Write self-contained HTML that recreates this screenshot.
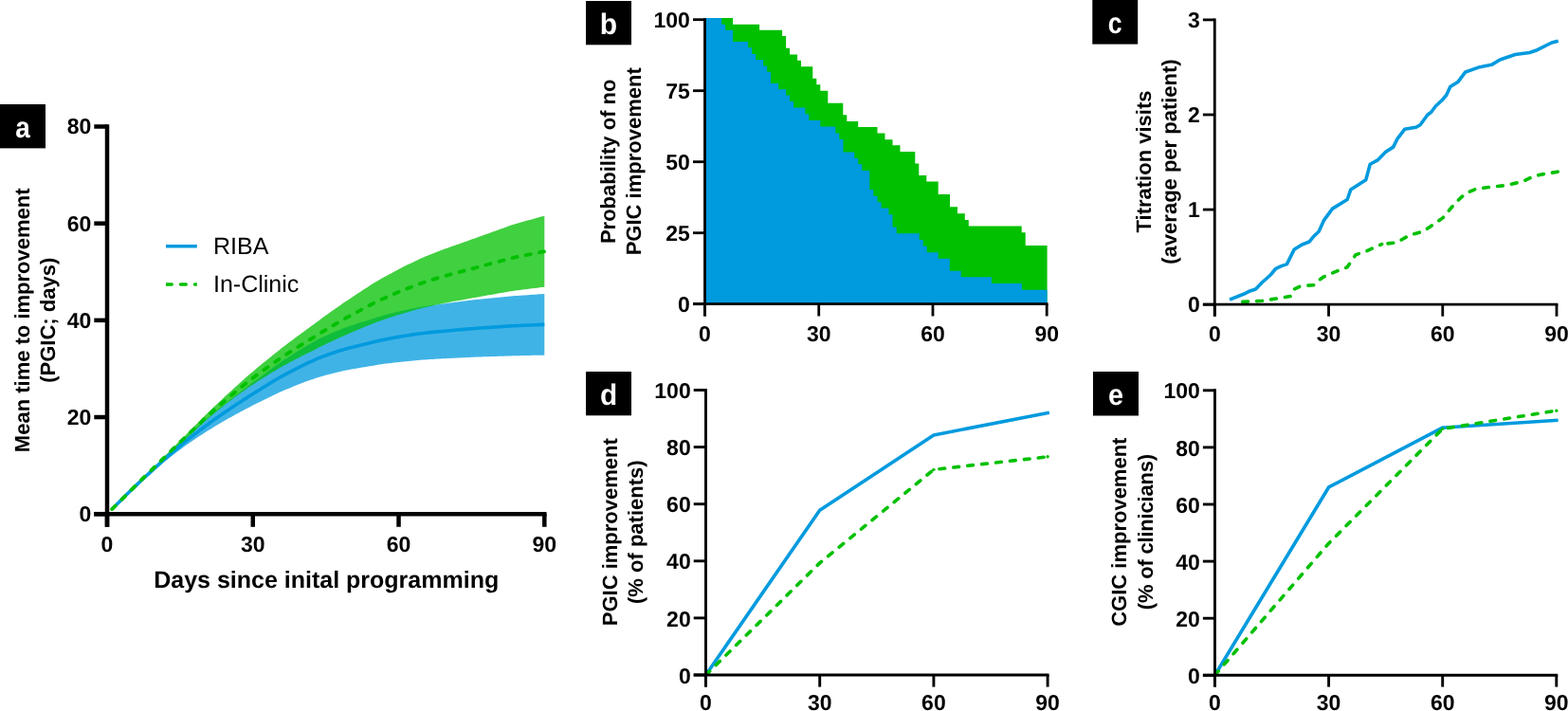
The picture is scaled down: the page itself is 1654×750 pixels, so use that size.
<!DOCTYPE html>
<html><head><meta charset="utf-8"><title>Figure</title>
<style>
html,body{margin:0;padding:0;background:#fff;}
body{width:1654px;height:750px;overflow:hidden;}
svg{display:block;text-rendering:geometricPrecision;}
.t{font-family:'Liberation Sans', Arial, Helvetica, sans-serif;font-weight:bold;font-size:23px;fill:#000;}
.l{font-family:'Liberation Sans', Arial, Helvetica, sans-serif;font-weight:bold;font-size:22px;fill:#000;}
.g{font-family:'Liberation Sans', Arial, Helvetica, sans-serif;font-weight:normal;font-size:25px;fill:#000;}
.p{font-family:'Liberation Sans', Arial, Helvetica, sans-serif;font-weight:bold;font-size:31px;fill:#fff;}
</style></head>
<body>
<svg width="1654" height="750" viewBox="0 0 1654 750">
<rect width="1654" height="750" fill="#fff"/>
<path d="M118.13,537.09 L120.69,534.53 L123.25,531.98 L125.81,529.42 L128.38,526.86 L130.94,524.31 L133.5,521.75 L136.06,519.15 L138.63,516.54 L141.19,513.97 L143.75,511.38 L146.32,508.79 L148.88,506.2 L151.44,503.7 L154,501.18 L156.57,498.66 L159.13,496.13 L161.69,493.59 L164.26,491.05 L166.82,488.51 L169.38,485.97 L171.94,483.48 L174.51,480.99 L177.07,478.55 L179.63,476.1 L182.19,473.71 L184.76,471.31 L187.32,468.9 L189.88,466.49 L192.45,464.13 L195.01,461.77 L197.57,459.46 L200.13,457.14 L202.7,454.94 L205.26,452.73 L207.82,450.51 L210.39,448.28 L212.95,446.11 L215.51,443.93 L218.07,441.75 L220.64,439.56 L223.2,437.43 L225.76,435.29 L228.32,433.21 L230.89,431.12 L233.45,429.1 L236.01,427.07 L238.58,425.03 L241.14,422.99 L243.7,420.95 L246.26,418.9 L248.83,416.91 L251.39,414.93 L253.95,413 L256.52,411.07 L259.08,409.13 L261.64,407.2 L264.2,405.26 L266.77,403.31 L269.33,401.43 L271.89,399.55 L274.45,397.67 L277.02,395.78 L279.58,393.89 L282.14,392 L284.71,390.1 L287.27,388.21 L289.83,386.37 L292.39,384.54 L294.96,382.77 L297.52,381.01 L300.08,379.35 L302.65,377.72 L305.21,376.08 L307.77,374.43 L310.33,372.79 L312.9,371.14 L315.46,369.55 L318.02,367.97 L320.58,366.44 L323.15,364.92 L325.71,363.46 L328.27,361.99 L330.84,360.53 L333.4,359.06 L335.96,357.8 L338.52,356.54 L341.09,355.35 L343.65,354.15 L346.21,353.01 L348.78,351.87 L351.34,350.79 L353.9,349.72 L356.46,348.65 L359.03,347.57 L361.59,346.56 L364.15,345.54 L366.71,344.66 L369.28,343.79 L371.84,342.98 L374.4,342.18 L376.97,341.37 L379.53,340.57 L382.09,339.76 L384.65,338.94 L387.22,338.13 L389.78,337.31 L392.34,336.5 L394.91,335.68 L397.47,334.85 L400.03,334.03 L402.59,333.27 L405.16,332.51 L407.72,331.82 L410.28,331.14 L412.84,330.52 L415.41,329.92 L417.97,329.31 L420.53,328.7 L423.1,328.09 L425.66,327.47 L428.22,326.92 L430.78,326.38 L433.35,325.84 L435.91,325.29 L438.47,324.75 L441.04,324.2 L443.6,323.78 L446.16,323.38 L448.72,322.98 L451.29,322.58 L453.85,322.18 L456.41,321.78 L458.97,321.45 L461.54,321.13 L464.1,320.81 L466.66,320.48 L469.23,320.16 L471.79,319.83 L474.35,319.5 L476.91,319.17 L479.48,318.85 L482.04,318.52 L484.6,318.19 L487.17,317.86 L489.73,317.53 L492.29,317.19 L494.85,316.86 L497.42,316.53 L499.98,316.26 L502.54,316.01 L505.1,315.76 L507.67,315.5 L510.23,315.25 L512.79,315 L515.36,314.74 L517.92,314.49 L520.48,314.23 L523.04,313.98 L525.61,313.72 L528.17,313.47 L530.73,313.21 L533.3,312.95 L535.86,312.69 L538.42,312.44 L540.98,312.25 L543.55,312.08 L546.11,311.9 L548.67,311.73 L551.23,311.55 L553.8,311.38 L556.36,311.21 L558.92,311.03 L561.49,310.85 L564.05,310.68 L566.61,310.5 L569.17,310.33 L571.74,310.15 L574.3,310.07 L574.3,374.63 L571.74,374.66 L569.17,374.71 L566.61,374.76 L564.05,374.82 L561.49,374.87 L558.92,374.93 L556.36,374.98 L553.8,375.04 L551.23,375.09 L548.67,375.15 L546.11,375.2 L543.55,375.26 L540.98,375.32 L538.42,375.38 L535.86,375.46 L533.3,375.55 L530.73,375.64 L528.17,375.72 L525.61,375.81 L523.04,375.9 L520.48,375.99 L517.92,376.08 L515.36,376.17 L512.79,376.26 L510.23,376.35 L507.67,376.44 L505.1,376.53 L502.54,376.62 L499.98,376.71 L497.42,376.81 L494.85,376.94 L492.29,377.06 L489.73,377.19 L487.17,377.31 L484.6,377.44 L482.04,377.57 L479.48,377.7 L476.91,377.83 L474.35,377.96 L471.79,378.09 L469.23,378.22 L466.66,378.35 L464.1,378.49 L461.54,378.62 L458.97,378.76 L456.41,378.9 L453.85,379.07 L451.29,379.24 L448.72,379.41 L446.16,379.58 L443.6,379.76 L441.04,379.94 L438.47,380.19 L435.91,380.44 L433.35,380.68 L430.78,380.93 L428.22,381.18 L425.66,381.44 L423.1,381.72 L420.53,382.01 L417.97,382.3 L415.41,382.6 L412.84,382.89 L410.28,383.19 L407.72,383.52 L405.16,383.87 L402.59,384.24 L400.03,384.62 L397.47,385.04 L394.91,385.46 L392.34,385.88 L389.78,386.31 L387.22,386.73 L384.65,387.16 L382.09,387.59 L379.53,388.02 L376.97,388.45 L374.4,388.89 L371.84,389.33 L369.28,389.78 L366.71,390.26 L364.15,390.75 L361.59,391.33 L359.03,391.9 L356.46,392.52 L353.9,393.14 L351.34,393.77 L348.78,394.4 L346.21,395.07 L343.65,395.75 L341.09,396.47 L338.52,397.19 L335.96,397.95 L333.4,398.72 L330.84,399.63 L328.27,400.53 L325.71,401.44 L323.15,402.35 L320.58,403.31 L318.02,404.27 L315.46,405.28 L312.9,406.28 L310.33,407.34 L307.77,408.4 L305.21,409.46 L302.65,410.52 L300.08,411.59 L297.52,412.67 L294.96,413.83 L292.39,415 L289.83,416.21 L287.27,417.43 L284.71,418.69 L282.14,419.96 L279.58,421.22 L277.02,422.49 L274.45,423.77 L271.89,425.04 L269.33,426.32 L266.77,427.61 L264.2,428.94 L261.64,430.27 L259.08,431.61 L256.52,432.95 L253.95,434.3 L251.39,435.65 L248.83,437.05 L246.26,438.45 L243.7,439.91 L241.14,441.37 L238.58,442.83 L236.01,444.29 L233.45,445.76 L230.89,447.24 L228.32,448.77 L225.76,450.3 L223.2,451.89 L220.64,453.48 L218.07,455.12 L215.51,456.76 L212.95,458.41 L210.39,460.07 L207.82,461.78 L205.26,463.5 L202.7,465.22 L200.13,466.95 L197.57,468.78 L195.01,470.62 L192.45,472.51 L189.88,474.4 L187.32,476.35 L184.76,478.31 L182.19,480.27 L179.63,482.24 L177.07,484.26 L174.51,486.29 L171.94,488.37 L169.38,490.46 L166.82,492.6 L164.26,494.75 L161.69,496.89 L159.13,499.04 L156.57,501.2 L154,503.36 L151.44,505.53 L148.88,507.72 L146.32,510.02 L143.75,512.32 L141.19,514.63 L138.63,516.96 L136.06,519.35 L133.5,521.75 L130.94,524.31 L128.38,526.86 L125.81,529.42 L123.25,531.98 L120.69,534.53 L118.13,537.09 Z" fill="#009ADE" fill-opacity="0.75"/>
<path d="M118.13,537.09 L120.69,534.53 L123.25,531.98 L125.81,529.42 L128.38,526.86 L130.94,524.31 L133.5,521.75 L136.06,519.2 L138.63,516.64 L141.19,514.08 L143.75,511.53 L146.32,508.97 L148.88,506.41 L151.44,503.81 L154,501.2 L156.57,498.6 L159.13,495.99 L161.69,493.38 L164.26,490.78 L166.82,488.17 L169.38,485.57 L171.94,482.96 L174.51,480.35 L177.07,477.75 L179.63,475.14 L182.19,472.53 L184.76,469.93 L187.32,467.37 L189.88,464.81 L192.45,462.24 L195.01,459.67 L197.57,457.09 L200.13,454.52 L202.7,451.93 L205.26,449.35 L207.82,446.77 L210.39,444.18 L212.95,441.59 L215.51,439.01 L218.07,436.47 L220.64,433.94 L223.2,431.51 L225.76,429.07 L228.32,426.68 L230.89,424.28 L233.45,421.88 L236.01,419.47 L238.58,417.11 L241.14,414.75 L243.7,412.43 L246.26,410.11 L248.83,407.78 L251.39,405.44 L253.95,403.1 L256.52,400.75 L259.08,398.51 L261.64,396.27 L264.2,394.08 L266.77,391.89 L269.33,389.75 L271.89,387.6 L274.45,385.45 L277.02,383.3 L279.58,381.25 L282.14,379.21 L284.71,377.16 L287.27,375.11 L289.83,373.05 L292.39,370.98 L294.96,368.91 L297.52,366.84 L300.08,364.89 L302.65,362.93 L305.21,361.03 L307.77,359.13 L310.33,357.23 L312.9,355.32 L315.46,353.4 L318.02,351.49 L320.58,349.63 L323.15,347.76 L325.71,345.9 L328.27,344.02 L330.84,342.15 L333.4,340.27 L335.96,338.39 L338.52,336.51 L341.09,334.62 L343.65,332.74 L346.21,330.91 L348.78,329.08 L351.34,327.25 L353.9,325.42 L356.46,323.65 L359.03,321.89 L361.59,320.12 L364.15,318.35 L366.71,316.63 L369.28,314.92 L371.84,313.2 L374.4,311.48 L376.97,309.83 L379.53,308.17 L382.09,306.52 L384.65,304.86 L387.22,303.2 L389.78,301.54 L392.34,299.87 L394.91,298.21 L397.47,296.68 L400.03,295.14 L402.59,293.73 L405.16,292.31 L407.72,290.9 L410.28,289.48 L412.84,288.13 L415.41,286.77 L417.97,285.42 L420.53,284.06 L423.1,282.7 L425.66,281.33 L428.22,280.09 L430.78,278.86 L433.35,277.63 L435.91,276.4 L438.47,275.17 L441.04,273.93 L443.6,272.8 L446.16,271.71 L448.72,270.61 L451.29,269.51 L453.85,268.46 L456.41,267.44 L458.97,266.41 L461.54,265.38 L464.1,264.4 L466.66,263.44 L469.23,262.54 L471.79,261.64 L474.35,260.75 L476.91,259.85 L479.48,258.95 L482.04,258.05 L484.6,257.15 L487.17,256.25 L489.73,255.34 L492.29,254.43 L494.85,253.52 L497.42,252.61 L499.98,251.7 L502.54,250.79 L505.1,249.87 L507.67,248.95 L510.23,248.04 L512.79,247.12 L515.36,246.2 L517.92,245.27 L520.48,244.35 L523.04,243.43 L525.61,242.5 L528.17,241.57 L530.73,240.64 L533.3,239.71 L535.86,238.78 L538.42,237.85 L540.98,236.99 L543.55,236.13 L546.11,235.43 L548.67,234.73 L551.23,234.02 L553.8,233.32 L556.36,232.62 L558.92,231.91 L561.49,231.21 L564.05,230.5 L566.61,229.79 L569.17,229.08 L571.74,228.37 L574.3,228.03 L574.3,302.87 L571.74,303.02 L569.17,303.33 L566.61,303.65 L564.05,303.97 L561.49,304.29 L558.92,304.61 L556.36,304.93 L553.8,305.25 L551.23,305.57 L548.67,305.89 L546.11,306.22 L543.55,306.55 L540.98,306.95 L538.42,307.36 L535.86,307.8 L533.3,308.24 L530.73,308.68 L528.17,309.12 L525.61,309.57 L523.04,310.02 L520.48,310.46 L517.92,310.91 L515.36,311.36 L512.79,311.82 L510.23,312.27 L507.67,312.72 L505.1,313.18 L502.54,313.64 L499.98,314.09 L497.42,314.55 L494.85,315.02 L492.29,315.48 L489.73,315.94 L487.17,316.41 L484.6,316.88 L482.04,317.35 L479.48,317.82 L476.91,318.3 L474.35,318.77 L471.79,319.25 L469.23,319.73 L466.66,320.22 L464.1,320.74 L461.54,321.27 L458.97,321.84 L456.41,322.41 L453.85,322.98 L451.29,323.57 L448.72,324.18 L446.16,324.81 L443.6,325.43 L441.04,326.08 L438.47,326.79 L435.91,327.5 L433.35,328.22 L430.78,328.93 L428.22,329.65 L425.66,330.39 L423.1,331.2 L420.53,332.01 L417.97,332.82 L415.41,333.64 L412.84,334.46 L410.28,335.28 L407.72,336.14 L405.16,337.01 L402.59,337.89 L400.03,338.76 L397.47,339.72 L394.91,340.68 L392.34,341.72 L389.78,342.77 L387.22,343.82 L384.65,344.87 L382.09,345.92 L379.53,346.97 L376.97,348.03 L374.4,349.1 L371.84,350.2 L369.28,351.31 L366.71,352.42 L364.15,353.54 L361.59,354.7 L359.03,355.86 L356.46,357.02 L353.9,358.19 L351.34,359.4 L348.78,360.62 L346.21,361.83 L343.65,363.06 L341.09,364.32 L338.52,365.59 L335.96,366.86 L333.4,368.14 L330.84,369.41 L328.27,370.69 L325.71,371.98 L323.15,373.26 L320.58,374.55 L318.02,375.84 L315.46,377.18 L312.9,378.52 L310.33,379.87 L307.77,381.22 L305.21,382.58 L302.65,383.94 L300.08,385.35 L297.52,386.77 L294.96,388.28 L292.39,389.8 L289.83,391.32 L287.27,392.84 L284.71,394.37 L282.14,395.91 L279.58,397.45 L277.02,399 L274.45,400.65 L271.89,402.31 L269.33,403.97 L266.77,405.64 L264.2,407.36 L261.64,409.09 L259.08,410.88 L256.52,412.68 L253.95,414.57 L251.39,416.47 L248.83,418.37 L246.26,420.28 L243.7,422.2 L241.14,424.12 L238.58,426.1 L236.01,428.09 L233.45,430.13 L230.89,432.19 L228.32,434.25 L225.76,436.32 L223.2,438.45 L220.64,440.59 L218.07,442.84 L215.51,445.1 L212.95,447.4 L210.39,449.71 L207.82,452.02 L205.26,454.34 L202.7,456.65 L200.13,458.96 L197.57,461.28 L195.01,463.6 L192.45,465.93 L189.88,468.25 L187.32,470.59 L184.76,472.93 L182.19,475.32 L179.63,477.71 L177.07,480.1 L174.51,482.49 L171.94,484.88 L169.38,487.28 L166.82,489.67 L164.26,492.06 L161.69,494.45 L159.13,496.84 L156.57,499.24 L154,501.63 L151.44,504.02 L148.88,506.41 L146.32,508.97 L143.75,511.53 L141.19,514.08 L138.63,516.64 L136.06,519.2 L133.5,521.75 L130.94,524.31 L128.38,526.86 L125.81,529.42 L123.25,531.98 L120.69,534.53 L118.13,537.09 Z" fill="#00C000" fill-opacity="0.75"/>
<path d="M118.13,537.09 L120.69,534.53 L123.25,531.98 L125.81,529.42 L128.38,526.86 L130.94,524.31 L133.5,521.75 L136.06,519.25 L138.63,516.75 L141.19,514.3 L143.75,511.85 L146.32,509.41 L148.88,506.96 L151.44,504.61 L154,502.27 L156.57,499.93 L159.13,497.59 L161.69,495.24 L164.26,492.9 L166.82,490.56 L169.38,488.22 L171.94,485.93 L174.51,483.64 L177.07,481.4 L179.63,479.17 L182.19,476.99 L184.76,474.81 L187.32,472.63 L189.88,470.45 L192.45,468.32 L195.01,466.19 L197.57,464.12 L200.13,462.05 L202.7,460.08 L205.26,458.11 L207.82,456.14 L210.39,454.18 L212.95,452.26 L215.51,450.35 L218.07,448.43 L220.64,446.52 L223.2,444.66 L225.76,442.8 L228.32,440.99 L230.89,439.18 L233.45,437.43 L236.01,435.68 L238.58,433.93 L241.14,432.18 L243.7,430.43 L246.26,428.68 L248.83,426.98 L251.39,425.29 L253.95,423.65 L256.52,422.01 L259.08,420.37 L261.64,418.74 L264.2,417.1 L266.77,415.46 L269.33,413.88 L271.89,412.3 L274.45,410.72 L277.02,409.14 L279.58,407.56 L282.14,405.98 L284.71,404.4 L287.27,402.82 L289.83,401.29 L292.39,399.77 L294.96,398.3 L297.52,396.84 L300.08,395.47 L302.65,394.12 L305.21,392.77 L307.77,391.41 L310.33,390.06 L312.9,388.71 L315.46,387.41 L318.02,386.12 L320.58,384.88 L323.15,383.63 L325.71,382.45 L328.27,381.26 L330.84,380.08 L333.4,378.89 L335.96,377.88 L338.52,376.86 L341.09,375.91 L343.65,374.95 L346.21,374.04 L348.78,373.14 L351.34,372.28 L353.9,371.43 L356.46,370.58 L359.03,369.74 L361.59,368.94 L364.15,368.15 L366.71,367.46 L369.28,366.79 L371.84,366.15 L374.4,365.53 L376.97,364.91 L379.53,364.29 L382.09,363.67 L384.65,363.05 L387.22,362.43 L389.78,361.81 L392.34,361.19 L394.91,360.57 L397.47,359.95 L400.03,359.33 L402.59,358.75 L405.16,358.19 L407.72,357.67 L410.28,357.17 L412.84,356.71 L415.41,356.26 L417.97,355.81 L420.53,355.36 L423.1,354.9 L425.66,354.45 L428.22,354.05 L430.78,353.66 L433.35,353.26 L435.91,352.86 L438.47,352.47 L441.04,352.07 L443.6,351.77 L446.16,351.48 L448.72,351.2 L451.29,350.91 L453.85,350.63 L456.41,350.34 L458.97,350.11 L461.54,349.88 L464.1,349.65 L466.66,349.42 L469.23,349.19 L471.79,348.96 L474.35,348.73 L476.91,348.5 L479.48,348.27 L482.04,348.04 L484.6,347.81 L487.17,347.59 L489.73,347.36 L492.29,347.13 L494.85,346.9 L497.42,346.67 L499.98,346.49 L502.54,346.31 L505.1,346.14 L507.67,345.97 L510.23,345.8 L512.79,345.63 L515.36,345.45 L517.92,345.28 L520.48,345.11 L523.04,344.94 L525.61,344.77 L528.17,344.59 L530.73,344.42 L533.3,344.25 L535.86,344.08 L538.42,343.91 L540.98,343.78 L543.55,343.67 L546.11,343.55 L548.67,343.44 L551.23,343.32 L553.8,343.21 L556.36,343.09 L558.92,342.98 L561.49,342.86 L564.05,342.75 L566.61,342.63 L569.17,342.52 L571.74,342.4 L574.3,342.35" fill="none" stroke="#009ADE" stroke-width="3.6" stroke-linecap="butt" stroke-linejoin="round"/>
<path d="M118.13,537.09 L120.69,534.53 L123.25,531.98 L125.81,529.42 L128.38,526.86 L130.94,524.31 L133.5,521.75 L136.06,519.2 L138.63,516.64 L141.19,514.08 L143.75,511.53 L146.32,508.97 L148.88,506.41 L151.44,503.91 L154,501.42 L156.57,498.92 L159.13,496.42 L161.69,493.92 L164.26,491.42 L166.82,488.92 L169.38,486.42 L171.94,483.92 L174.51,481.42 L177.07,478.92 L179.63,476.43 L182.19,473.93 L184.76,471.43 L187.32,468.98 L189.88,466.53 L192.45,464.08 L195.01,461.64 L197.57,459.19 L200.13,456.74 L202.7,454.29 L205.26,451.84 L207.82,449.4 L210.39,446.95 L212.95,444.5 L215.51,442.05 L218.07,439.66 L220.64,437.26 L223.2,434.98 L225.76,432.69 L228.32,430.47 L230.89,428.24 L233.45,426.01 L236.01,423.78 L238.58,421.6 L241.14,419.43 L243.7,417.31 L246.26,415.19 L248.83,413.07 L251.39,410.95 L253.95,408.83 L256.52,406.71 L259.08,404.69 L261.64,402.68 L264.2,400.72 L266.77,398.76 L269.33,396.86 L271.89,394.96 L274.45,393.05 L277.02,391.15 L279.58,389.35 L282.14,387.56 L284.71,385.77 L287.27,383.98 L289.83,382.18 L292.39,380.39 L294.96,378.6 L297.52,376.81 L300.08,375.12 L302.65,373.43 L305.21,371.8 L307.77,370.18 L310.33,368.55 L312.9,366.92 L315.46,365.29 L318.02,363.67 L320.58,362.09 L323.15,360.51 L325.71,358.94 L328.27,357.36 L330.84,355.78 L333.4,354.21 L335.96,352.63 L338.52,351.05 L341.09,349.47 L343.65,347.9 L346.21,346.37 L348.78,344.85 L351.34,343.33 L353.9,341.81 L356.46,340.34 L359.03,338.87 L361.59,337.41 L364.15,335.94 L366.71,334.53 L369.28,333.11 L371.84,331.7 L374.4,330.29 L376.97,328.93 L379.53,327.57 L382.09,326.22 L384.65,324.86 L387.22,323.51 L389.78,322.15 L392.34,320.8 L394.91,319.45 L397.47,318.2 L400.03,316.95 L402.59,315.81 L405.16,314.66 L407.72,313.52 L410.28,312.38 L412.84,311.29 L415.41,310.21 L417.97,309.12 L420.53,308.03 L423.1,306.95 L425.66,305.86 L428.22,304.87 L430.78,303.9 L433.35,302.93 L435.91,301.95 L438.47,300.98 L441.04,300.01 L443.6,299.12 L446.16,298.26 L448.72,297.4 L451.29,296.54 L453.85,295.72 L456.41,294.92 L458.97,294.12 L461.54,293.32 L464.1,292.57 L466.66,291.83 L469.23,291.13 L471.79,290.45 L474.35,289.76 L476.91,289.07 L479.48,288.39 L482.04,287.7 L484.6,287.02 L487.17,286.33 L489.73,285.64 L492.29,284.96 L494.85,284.27 L497.42,283.58 L499.98,282.9 L502.54,282.21 L505.1,281.52 L507.67,280.84 L510.23,280.15 L512.79,279.47 L515.36,278.78 L517.92,278.09 L520.48,277.41 L523.04,276.72 L525.61,276.03 L528.17,275.35 L530.73,274.66 L533.3,273.98 L535.86,273.29 L538.42,272.6 L540.98,271.97 L543.55,271.34 L546.11,270.82 L548.67,270.31 L551.23,269.8 L553.8,269.28 L556.36,268.77 L558.92,268.26 L561.49,267.75 L564.05,267.23 L566.61,266.72 L569.17,266.21 L571.74,265.7 L574.3,265.45" fill="none" stroke="#00C000" stroke-width="3.8" stroke-linecap="round" stroke-linejoin="round" stroke-dasharray="5.2 9.3"/>
<line x1="113" y1="131.25" x2="113" y2="555.8" stroke="#000" stroke-width="4.5"/>
<line x1="99.3" y1="542.2" x2="576.55" y2="542.2" stroke="#000" stroke-width="4.5"/>
<line x1="99.3" y1="542.2" x2="113" y2="542.2" stroke="#000" stroke-width="4.5"/>
<line x1="99.3" y1="440.03" x2="113" y2="440.03" stroke="#000" stroke-width="4.5"/>
<line x1="99.3" y1="337.85" x2="113" y2="337.85" stroke="#000" stroke-width="4.5"/>
<line x1="99.3" y1="235.68" x2="113" y2="235.68" stroke="#000" stroke-width="4.5"/>
<line x1="99.3" y1="133.5" x2="113" y2="133.5" stroke="#000" stroke-width="4.5"/>
<line x1="113" y1="542.2" x2="113" y2="555.8" stroke="#000" stroke-width="4.5"/>
<line x1="266.77" y1="542.2" x2="266.77" y2="555.8" stroke="#000" stroke-width="4.5"/>
<line x1="420.53" y1="542.2" x2="420.53" y2="555.8" stroke="#000" stroke-width="4.5"/>
<line x1="574.3" y1="542.2" x2="574.3" y2="555.8" stroke="#000" stroke-width="4.5"/>
<text transform="translate(96.3,550.1) scale(1,1.0)" text-anchor="end" class="t">0</text>
<text transform="translate(96.3,447.93) scale(1,1.0)" text-anchor="end" class="t">20</text>
<text transform="translate(96.3,345.75) scale(1,1.0)" text-anchor="end" class="t">40</text>
<text transform="translate(96.3,243.58) scale(1,1.0)" text-anchor="end" class="t">60</text>
<text transform="translate(96.3,141.4) scale(1,1.0)" text-anchor="end" class="t">80</text>
<text transform="translate(113,581.8) scale(1,1.0)" text-anchor="middle" class="t">0</text>
<text transform="translate(266.77,581.8) scale(1,1.0)" text-anchor="middle" class="t">30</text>
<text transform="translate(420.53,581.8) scale(1,1.0)" text-anchor="middle" class="t">60</text>
<text transform="translate(574.3,581.8) scale(1,1.0)" text-anchor="middle" class="t">90</text>
<text transform="translate(31.2,337.8) rotate(-90) scale(1,1.0)" text-anchor="middle" class="l">Mean time to improvement</text>
<text transform="translate(58,337.8) rotate(-90) scale(1,1.0)" text-anchor="middle" class="l">(PGIC; days)</text>
<text x="344.2" y="620" text-anchor="middle" class="l" style="font-size:25px">Days since inital programming</text>
<line x1="175" y1="259.8" x2="207.8" y2="259.8" stroke="#009ADE" stroke-width="3.6"/>
<clipPath id="lgc"><rect x="175" y="290" width="32.8" height="20"/></clipPath>
<line x1="175.6" y1="300.05" x2="212" y2="300.05" stroke="#00C000" stroke-width="3.6" stroke-linecap="round" stroke-dasharray="5.6 9.4" clip-path="url(#lgc)"/>
<text x="225" y="268.3" class="g">RIBA</text>
<text x="225" y="308" class="g">In-Clinic</text>
<rect x="0" y="110" width="48" height="46.4" fill="#000"/>
<text transform="translate(24,144.7) scale(0.9,1)" text-anchor="middle" class="p">a</text>
<path d="M743.5,320.7 L743.5,19 L773.1,19 L773.1,25.7 L801.1,25.7 L801.1,31.7 L825.1,31.7 L825.1,37.9 L829.1,37.9 L829.1,50.7 L833.1,50.7 L833.1,57.4 L841.1,57.4 L841.1,63.7 L845,63.7 L845,70.2 L857.3,70.2 L857.3,82.8 L861.3,82.8 L861.3,89.3 L865.3,89.3 L865.3,95.7 L873.3,95.7 L873.3,108.7 L889.3,108.7 L889.3,121.3 L893.3,121.3 L893.3,128 L905.2,128 L905.2,134 L925.5,134 L925.5,140.5 L933.5,140.5 L933.5,147.2 L941.5,147.2 L941.5,153.3 L949.5,153.3 L949.5,160 L965.3,160 L965.3,172.4 L969.3,172.4 L969.3,184.9 L977.3,184.9 L977.3,191.6 L989.7,191.6 L989.7,204.9 L1002,204.9 L1002,218.3 L1010,218.3 L1010,225.3 L1017.8,225.3 L1017.8,231.9 L1021.8,231.9 L1021.8,238.6 L1077.7,238.6 L1077.7,245.3 L1081.7,245.3 L1081.7,259 L1104.6,259 L1104.6,320.7 Z" fill="#00C000"/>
<path d="M743.5,320.7 L743.5,19 L761.1,19 L761.1,25.7 L765.1,25.7 L765.1,31.7 L773.1,31.7 L773.1,44.1 L789.1,44.1 L789.1,50.3 L793.1,50.3 L793.1,57 L797.1,57 L797.1,63 L805.1,63 L805.1,69.4 L809.1,69.4 L809.1,75.7 L813.1,75.7 L813.1,88.1 L821.1,88.1 L821.1,94.3 L829.1,94.3 L829.1,100.6 L833.1,100.6 L833.1,107 L837.2,107 L837.2,113.6 L849.3,113.6 L849.3,120.3 L853.3,120.3 L853.3,126.9 L865.3,126.9 L865.3,133.6 L881.3,133.6 L881.3,140.4 L885.3,140.4 L885.3,147.1 L889.5,147.1 L889.5,160.4 L901.3,160.4 L901.3,167.1 L905.3,167.1 L905.3,173.3 L909.3,173.3 L909.3,180 L917.3,180 L917.3,200 L921.3,200 L921.3,206.7 L925.6,206.7 L925.6,213.3 L929.6,213.3 L929.6,219.6 L937.5,219.6 L937.5,226.3 L941.5,226.3 L941.5,239.6 L945.7,239.6 L945.7,246.3 L969.7,246.3 L969.7,252.9 L973.7,252.9 L973.7,259.6 L977.7,259.6 L977.7,266.3 L989.7,266.3 L989.7,272.7 L1001.8,272.7 L1001.8,285.7 L1013.7,285.7 L1013.7,292.3 L1045.9,292.3 L1045.9,299 L1077.9,299 L1077.9,305.7 L1104.6,305.7 L1104.6,320.7 Z" fill="#009ADE"/>
<line x1="743.5" y1="19.3" x2="743.5" y2="333.5" stroke="#000" stroke-width="2.8"/>
<line x1="731" y1="320.7" x2="1105.6" y2="320.7" stroke="#000" stroke-width="2.8"/>
<line x1="731" y1="320.7" x2="743.5" y2="320.7" stroke="#000" stroke-width="2.8"/>
<line x1="731" y1="245.7" x2="743.5" y2="245.7" stroke="#000" stroke-width="2.8"/>
<line x1="731" y1="170.7" x2="743.5" y2="170.7" stroke="#000" stroke-width="2.8"/>
<line x1="731" y1="95.7" x2="743.5" y2="95.7" stroke="#000" stroke-width="2.8"/>
<line x1="731" y1="20.7" x2="743.5" y2="20.7" stroke="#000" stroke-width="2.8"/>
<line x1="743.5" y1="320.7" x2="743.5" y2="333.5" stroke="#000" stroke-width="2.8"/>
<line x1="863.73" y1="320.7" x2="863.73" y2="333.5" stroke="#000" stroke-width="2.8"/>
<line x1="983.97" y1="320.7" x2="983.97" y2="333.5" stroke="#000" stroke-width="2.8"/>
<line x1="1104.2" y1="320.7" x2="1104.2" y2="333.5" stroke="#000" stroke-width="2.8"/>
<text transform="translate(727.9,329.3) scale(1,1.0)" text-anchor="end" class="t">0</text>
<text transform="translate(727.9,254.3) scale(1,1.0)" text-anchor="end" class="t">25</text>
<text transform="translate(727.9,179.3) scale(1,1.0)" text-anchor="end" class="t">50</text>
<text transform="translate(727.9,104.3) scale(1,1.0)" text-anchor="end" class="t">75</text>
<text transform="translate(727.9,29.3) scale(1,1.0)" text-anchor="end" class="t">100</text>
<text transform="translate(743.5,359.7) scale(1,1.0)" text-anchor="middle" class="t">0</text>
<text transform="translate(863.73,359.7) scale(1,1.0)" text-anchor="middle" class="t">30</text>
<text transform="translate(983.97,359.7) scale(1,1.0)" text-anchor="middle" class="t">60</text>
<text transform="translate(1104.2,359.7) scale(1,1.0)" text-anchor="middle" class="t">90</text>
<text transform="translate(648.8,170.3) rotate(-90) scale(1,1.0)" text-anchor="middle" class="l">Probability of no</text>
<text transform="translate(675.9,170.3) rotate(-90) scale(1,1.0)" text-anchor="middle" class="l">PGIC improvement</text>
<rect x="618" y="1" width="48" height="46.3" fill="#000"/>
<text transform="translate(642,35.65) scale(0.97,1)" text-anchor="middle" class="p">b</text>
<path d="M1298.73,315.49 L1311.76,310.29 L1318.57,306.99 L1324.58,304.98 L1331,298.28 L1340.21,289.97 L1345.83,283.26 L1351.04,280.86 L1357.45,278.66 L1365.06,263.34 L1373.48,258.04 L1381.09,255.03 L1385.1,250.03 L1391.11,244.22 L1396.72,232.11 L1405.54,220.1 L1421.17,210.49 L1424.78,200.08 L1440.81,189.67 L1445.22,173.25 L1453.23,168.95 L1461.65,160.34 L1469.67,155.13 L1474.07,146.43 L1481.69,136.32 L1493.71,134.31 L1498.12,131.71 L1505.74,121.3 L1509.74,118.3 L1514.15,112.29 L1521.77,104.98 L1525.77,100.28 L1529.78,91.57 L1537.8,86.57 L1545.81,75.95 L1561.04,70.65 L1573.47,68.35 L1582.28,63.04 L1598.32,57.44 L1613.54,55.43 L1621.56,52.73 L1627.57,49.73 L1636.79,45.02 L1642,43.72" fill="none" stroke="#009ADE" stroke-width="3.6" stroke-linejoin="round" stroke-linecap="square"/>
<path d="M1310.76,318.4 L1331.4,317.3 L1345.83,315.09 L1361.46,312.39 L1364.66,305.18 L1371.07,302.18 L1379.49,301.18 L1386.3,300.68 L1391.11,295.67 L1395.92,292.17 L1405.54,287.87 L1421.17,281.76 L1429.99,268.85 L1442.01,264.54 L1457.64,257.54" fill="none" stroke="#00C000" stroke-width="3.6" stroke-linejoin="round" stroke-linecap="round" stroke-dasharray="5.8 9.2"/>
<path d="M1457.64,257.54 L1473.27,255.83 L1486.9,248.03 L1500.93,244.22 L1513.75,235.61 L1522.17,229.61 L1525.77,225.4 L1534.19,215.19 L1542.21,207.39 L1549.42,202.58 L1557.84,198.98 L1572.26,197.38 L1587.89,195.57 L1602.32,192.37 L1609.54,189.97 L1616.75,186.37 L1626.37,183.96 L1643.2,181.16" fill="none" stroke="#00C000" stroke-width="3.6" stroke-linejoin="round" stroke-linecap="round" stroke-dasharray="5.8 9.2" stroke-dashoffset="8.59"/>
<line x1="1281.3" y1="19.5" x2="1281.3" y2="333.7" stroke="#000" stroke-width="2.8"/>
<line x1="1268.9" y1="321.2" x2="1643.4" y2="321.2" stroke="#000" stroke-width="2.8"/>
<line x1="1268.9" y1="321.2" x2="1281.3" y2="321.2" stroke="#000" stroke-width="2.8"/>
<line x1="1268.9" y1="221.1" x2="1281.3" y2="221.1" stroke="#000" stroke-width="2.8"/>
<line x1="1268.9" y1="121" x2="1281.3" y2="121" stroke="#000" stroke-width="2.8"/>
<line x1="1268.9" y1="20.9" x2="1281.3" y2="20.9" stroke="#000" stroke-width="2.8"/>
<line x1="1281.3" y1="321.2" x2="1281.3" y2="333.7" stroke="#000" stroke-width="2.8"/>
<line x1="1401.53" y1="321.2" x2="1401.53" y2="333.7" stroke="#000" stroke-width="2.8"/>
<line x1="1521.77" y1="321.2" x2="1521.77" y2="333.7" stroke="#000" stroke-width="2.8"/>
<line x1="1642" y1="321.2" x2="1642" y2="333.7" stroke="#000" stroke-width="2.8"/>
<text transform="translate(1265.9,329.1) scale(1,1.0)" text-anchor="end" class="t">0</text>
<text transform="translate(1265.9,229) scale(1,1.0)" text-anchor="end" class="t">1</text>
<text transform="translate(1265.9,128.9) scale(1,1.0)" text-anchor="end" class="t">2</text>
<text transform="translate(1265.9,28.8) scale(1,1.0)" text-anchor="end" class="t">3</text>
<text transform="translate(1281.3,359.7) scale(1,1.0)" text-anchor="middle" class="t">0</text>
<text transform="translate(1401.53,359.7) scale(1,1.0)" text-anchor="middle" class="t">30</text>
<text transform="translate(1521.77,359.7) scale(1,1.0)" text-anchor="middle" class="t">60</text>
<text transform="translate(1642,359.7) scale(1,1.0)" text-anchor="middle" class="t">90</text>
<text transform="translate(1214,170.5) rotate(-90) scale(1,1.0)" text-anchor="middle" class="l">Titration visits</text>
<text transform="translate(1241,170.5) rotate(-90) scale(1,1.0)" text-anchor="middle" class="l">(average per patient)</text>
<rect x="1152.3" y="0" width="47.9" height="46.6" fill="#000"/>
<text transform="translate(1176.25,34.8) scale(0.86,1)" text-anchor="middle" class="p">c</text>
<path d="M744.5,712 L864.7,538.31 L984.9,458.98 L1105.1,435.54" fill="none" stroke="#009ADE" stroke-width="3.6" stroke-linejoin="round" stroke-linecap="square"/>
<path d="M744.5,712 L864.7,593.9 L984.9,495.34 L1105.1,481.82" fill="none" stroke="#00C000" stroke-width="3.6" stroke-linejoin="round" stroke-linecap="round" stroke-dasharray="5.8 9.2" stroke-dashoffset="0"/>
<circle cx="864.7" cy="593.9" r="1.7" fill="#00C000"/>
<circle cx="984.9" cy="495.34" r="1.7" fill="#00C000"/>
<circle cx="1105.1" cy="481.82" r="1.7" fill="#00C000"/>
<line x1="744.5" y1="410.05" x2="744.5" y2="724.6" stroke="#000" stroke-width="2.9"/>
<line x1="731.7" y1="712" x2="1106.55" y2="712" stroke="#000" stroke-width="2.9"/>
<line x1="731.7" y1="712" x2="744.5" y2="712" stroke="#000" stroke-width="2.9"/>
<line x1="731.7" y1="651.9" x2="744.5" y2="651.9" stroke="#000" stroke-width="2.9"/>
<line x1="731.7" y1="591.8" x2="744.5" y2="591.8" stroke="#000" stroke-width="2.9"/>
<line x1="731.7" y1="531.7" x2="744.5" y2="531.7" stroke="#000" stroke-width="2.9"/>
<line x1="731.7" y1="471.6" x2="744.5" y2="471.6" stroke="#000" stroke-width="2.9"/>
<line x1="731.7" y1="411.5" x2="744.5" y2="411.5" stroke="#000" stroke-width="2.9"/>
<line x1="744.5" y1="712" x2="744.5" y2="724.6" stroke="#000" stroke-width="2.9"/>
<line x1="864.7" y1="712" x2="864.7" y2="724.6" stroke="#000" stroke-width="2.9"/>
<line x1="984.9" y1="712" x2="984.9" y2="724.6" stroke="#000" stroke-width="2.9"/>
<line x1="1105.1" y1="712" x2="1105.1" y2="724.6" stroke="#000" stroke-width="2.9"/>
<text transform="translate(728.7,720.6) scale(1,1.0)" text-anchor="end" class="t">0</text>
<text transform="translate(728.7,660.5) scale(1,1.0)" text-anchor="end" class="t">20</text>
<text transform="translate(728.7,600.4) scale(1,1.0)" text-anchor="end" class="t">40</text>
<text transform="translate(728.7,540.3) scale(1,1.0)" text-anchor="end" class="t">60</text>
<text transform="translate(728.7,480.2) scale(1,1.0)" text-anchor="end" class="t">80</text>
<text transform="translate(728.7,420.1) scale(1,1.0)" text-anchor="end" class="t">100</text>
<text transform="translate(744.5,749.3) scale(1,1.0)" text-anchor="middle" class="t">0</text>
<text transform="translate(864.7,749.3) scale(1,1.0)" text-anchor="middle" class="t">30</text>
<text transform="translate(984.9,749.3) scale(1,1.0)" text-anchor="middle" class="t">60</text>
<text transform="translate(1105.1,749.3) scale(1,1.0)" text-anchor="middle" class="t">90</text>
<text transform="translate(651,561.2) rotate(-90) scale(1,1.0)" text-anchor="middle" class="l">PGIC improvement</text>
<text transform="translate(678,561.2) rotate(-90) scale(1,1.0)" text-anchor="middle" class="l">(% of patients)</text>
<rect x="618" y="392" width="48" height="46.3" fill="#000"/>
<text transform="translate(642,426.65) scale(0.96,1)" text-anchor="middle" class="p">d</text>
<path d="M1281.5,712.3 L1401.6,513.97 L1521.7,451.17 L1641.8,443.35" fill="none" stroke="#009ADE" stroke-width="3.6" stroke-linejoin="round" stroke-linecap="square"/>
<path d="M1281.5,712.3 L1401.6,573.17 L1521.7,452.37 L1641.8,433.14" fill="none" stroke="#00C000" stroke-width="3.6" stroke-linejoin="round" stroke-linecap="round" stroke-dasharray="5.8 9.2" stroke-dashoffset="0"/>
<circle cx="1401.6" cy="573.17" r="1.7" fill="#00C000"/>
<circle cx="1521.7" cy="452.37" r="1.7" fill="#00C000"/>
<circle cx="1641.8" cy="433.14" r="1.7" fill="#00C000"/>
<line x1="1281.5" y1="410.35" x2="1281.5" y2="724.6" stroke="#000" stroke-width="2.9"/>
<line x1="1268.9" y1="712.3" x2="1643.25" y2="712.3" stroke="#000" stroke-width="2.9"/>
<line x1="1268.9" y1="712.3" x2="1281.5" y2="712.3" stroke="#000" stroke-width="2.9"/>
<line x1="1268.9" y1="652.2" x2="1281.5" y2="652.2" stroke="#000" stroke-width="2.9"/>
<line x1="1268.9" y1="592.1" x2="1281.5" y2="592.1" stroke="#000" stroke-width="2.9"/>
<line x1="1268.9" y1="532" x2="1281.5" y2="532" stroke="#000" stroke-width="2.9"/>
<line x1="1268.9" y1="471.9" x2="1281.5" y2="471.9" stroke="#000" stroke-width="2.9"/>
<line x1="1268.9" y1="411.8" x2="1281.5" y2="411.8" stroke="#000" stroke-width="2.9"/>
<line x1="1281.5" y1="712.3" x2="1281.5" y2="724.6" stroke="#000" stroke-width="2.9"/>
<line x1="1401.6" y1="712.3" x2="1401.6" y2="724.6" stroke="#000" stroke-width="2.9"/>
<line x1="1521.7" y1="712.3" x2="1521.7" y2="724.6" stroke="#000" stroke-width="2.9"/>
<line x1="1641.8" y1="712.3" x2="1641.8" y2="724.6" stroke="#000" stroke-width="2.9"/>
<text transform="translate(1265.9,720.9) scale(1,1.0)" text-anchor="end" class="t">0</text>
<text transform="translate(1265.9,660.8) scale(1,1.0)" text-anchor="end" class="t">20</text>
<text transform="translate(1265.9,600.7) scale(1,1.0)" text-anchor="end" class="t">40</text>
<text transform="translate(1265.9,540.6) scale(1,1.0)" text-anchor="end" class="t">60</text>
<text transform="translate(1265.9,480.5) scale(1,1.0)" text-anchor="end" class="t">80</text>
<text transform="translate(1265.9,420.4) scale(1,1.0)" text-anchor="end" class="t">100</text>
<text transform="translate(1281.5,749.3) scale(1,1.0)" text-anchor="middle" class="t">0</text>
<text transform="translate(1401.6,749.3) scale(1,1.0)" text-anchor="middle" class="t">30</text>
<text transform="translate(1521.7,749.3) scale(1,1.0)" text-anchor="middle" class="t">60</text>
<text transform="translate(1641.8,749.3) scale(1,1.0)" text-anchor="middle" class="t">90</text>
<text transform="translate(1188,561.2) rotate(-90) scale(1,1.0)" text-anchor="middle" class="l">CGIC improvement</text>
<text transform="translate(1215.5,561.2) rotate(-90) scale(1,1.0)" text-anchor="middle" class="l" style="letter-spacing:-0.2px">(% of clinicians)</text>
<rect x="1153" y="392" width="48" height="46.5" fill="#000"/>
<text transform="translate(1177,426.75) scale(0.93,1)" text-anchor="middle" class="p">e</text>
</svg>
</body></html>
